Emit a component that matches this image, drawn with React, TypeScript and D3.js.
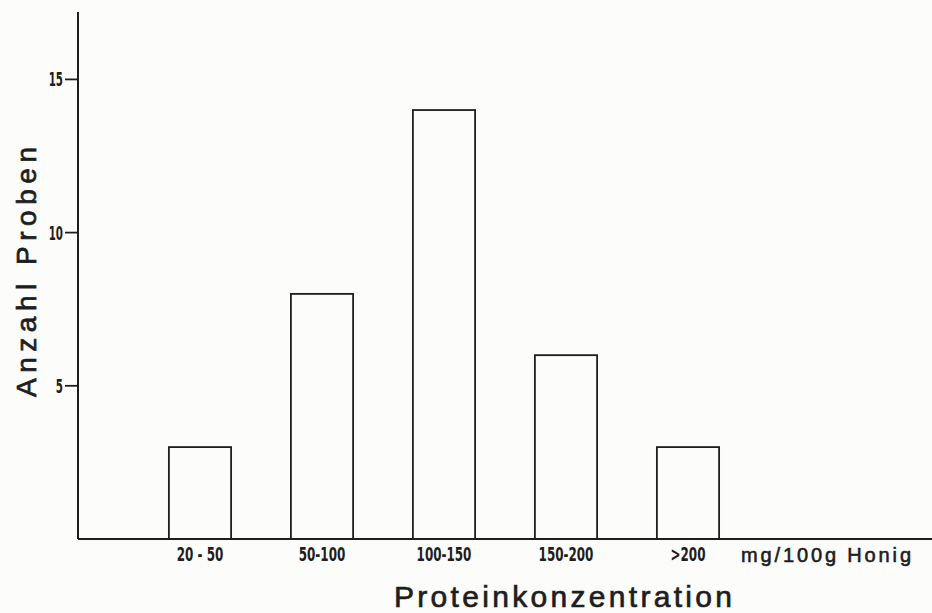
import React, { useEffect, useRef } from "react";
import * as d3 from "d3";

const categories = ["20 - 50", "50-100", "100-150", "150-200", ">200"];
const counts = [3, 8, 14, 6, 3];
const yTicks = [5, 10, 15];
const unitLabel = "mg/100g Honig";
const xTitle = "Proteinkonzentration";
const yTitle = "Anzahl Proben";

const W = 932;
const H = 613;

export default function App() {
  const ref = useRef<SVGSVGElement | null>(null);

  useEffect(() => {
    const svg = d3.select(ref.current);
    svg.selectAll("*").remove();

    const x0 = 78;
    const yBase = 539;
    const yTop = 12;
    const ink = "#1e1e1e";
    const sans = "'Liberation Sans', Arial, sans-serif";

    const x = d3
      .scaleBand<string>()
      .domain(categories)
      .range([139, 749])
      .paddingInner(0.49)
      .paddingOuter(0.245);
    const y = d3.scaleLinear().domain([0, 17.2]).range([yBase, yTop]);

    svg.append("rect").attr("width", W).attr("height", H).attr("fill", "#fcfcfb");

    svg
      .selectAll("rect.bar")
      .data(categories)
      .enter()
      .append("rect")
      .attr("class", "bar")
      .attr("x", (d) => x(d)!)
      .attr("y", (d, i) => y(counts[i]))
      .attr("width", x.bandwidth())
      .attr("height", (d, i) => yBase - y(counts[i]))
      .attr("fill", "none")
      .attr("stroke", ink)
      .attr("stroke-width", 1.8);

    svg
      .append("line")
      .attr("x1", x0)
      .attr("x2", x0)
      .attr("y1", yTop)
      .attr("y2", yBase)
      .attr("stroke", ink)
      .attr("stroke-width", 2);
    svg
      .append("line")
      .attr("x1", x0)
      .attr("x2", W)
      .attr("y1", yBase)
      .attr("y2", yBase)
      .attr("stroke", ink)
      .attr("stroke-width", 2);

    const fontNarrow = "'DejaVu Sans Condensed', 'DejaVu Sans', sans-serif";
    const yt = svg.append("g");
    yt.selectAll("line")
      .data(yTicks)
      .enter()
      .append("line")
      .attr("x1", x0 - 13)
      .attr("x2", x0)
      .attr("y1", (d) => y(d))
      .attr("y2", (d) => y(d))
      .attr("stroke", ink)
      .attr("stroke-width", 1.8);
    yt.selectAll("text")
      .data(yTicks)
      .enter()
      .append("text")
      .attr("transform", (d) => `translate(${x0 - 15},${y(d) + 7}) scale(0.6,1)`)
      .attr("text-anchor", "end")
      .attr("font-family", fontNarrow)
      .attr("font-weight", "bold")
      .attr("font-size", 19)
      .attr("fill", ink)
      .text((d) => String(d));

    svg
      .append("g")
      .selectAll("text")
      .data(categories)
      .enter()
      .append("text")
      .attr(
        "transform",
        (d) => `translate(${x(d)! + x.bandwidth() / 2},${561}) scale(0.7,1)`
      )
      .attr("text-anchor", "middle")
      .attr("font-family", fontNarrow)
      .attr("font-weight", "bold")
      .attr("font-size", 19)
      .attr("fill", ink)
      .text((d) => d);

    svg
      .append("text")
      .attr("x", 741)
      .attr("y", 562)
      .attr("font-family", sans)
      .attr("font-size", 20)
      .attr("stroke", ink)
      .attr("stroke-width", 0.6)
      .attr("textLength", 170)
      .attr("lengthAdjust", "spacing")
      .attr("fill", ink)
      .text(unitLabel);

    svg
      .append("text")
      .attr("x", 394)
      .attr("y", 607)
      .attr("font-family", sans)
      .attr("font-size", 30)
      .attr("stroke", ink)
      .attr("stroke-width", 0.7)
      .attr("textLength", 338)
      .attr("lengthAdjust", "spacing")
      .attr("fill", ink)
      .text(xTitle);

    svg
      .append("text")
      .attr("transform", "translate(36,397) rotate(-90)")
      .attr("font-family", sans)
      .attr("font-size", 28)
      .attr("stroke", ink)
      .attr("stroke-width", 0.7)
      .attr("textLength", 250)
      .attr("lengthAdjust", "spacing")
      .attr("fill", ink)
      .text(yTitle);
  }, []);

  return (
    <svg
      ref={ref}
      width={W}
      height={H}
      style={{ position: "absolute", left: 0, top: 0, display: "block" }}
    />
  );
}
